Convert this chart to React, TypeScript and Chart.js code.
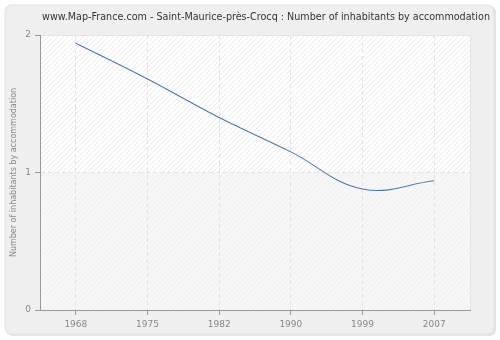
import React, { useEffect, useRef } from "react";
import { Chart, registerables } from "chart.js";

Chart.register(...registerables);

const TITLE = "www.Map-France.com - Saint-Maurice-près-Crocq : Number of inhabitants by accommodation";
const Y_LABEL = "Number of inhabitants by accommodation";
const years = ["1968", "1975", "1982", "1990", "1999", "2007"];
const values = [1.94, 1.68, 1.40, 1.15, 0.88, 0.94];
const yTicks = [0, 1, 2];

const FONT = "'DejaVu Sans', Verdana, sans-serif";

const decor = {
  id: "decor",
  beforeDraw(chart: any) {
    const { ctx, chartArea: a, scales } = chart;
    const W = chart.width, H = chart.height;
    ctx.save();
    ctx.fillStyle = "#ffffff";
    ctx.fillRect(0, 0, W, H);
    const rr = (x: number, y: number, w: number, h: number, r: number) => {
      ctx.beginPath();
      ctx.moveTo(x + r, y);
      ctx.lineTo(x + w - r, y);
      ctx.quadraticCurveTo(x + w, y, x + w, y + r);
      ctx.lineTo(x + w, y + h - r);
      ctx.quadraticCurveTo(x + w, y + h, x + w - r, y + h);
      ctx.lineTo(x + r, y + h);
      ctx.quadraticCurveTo(x, y + h, x, y + h - r);
      ctx.lineTo(x, y + r);
      ctx.quadraticCurveTo(x, y, x + r, y);
      ctx.closePath();
    };
    rr(6, 6, 490, 330, 7);
    ctx.fillStyle = "#e4e4e4";
    ctx.fill();
    rr(5, 5, 489, 329, 7);
    ctx.fillStyle = "#efefef";
    ctx.fill();
    ctx.strokeStyle = "#e2e2e2";
    ctx.lineWidth = 1;
    ctx.stroke();

    const y1 = scales.y.getPixelForValue(1);
    ctx.fillStyle = "#ffffff";
    ctx.fillRect(a.left, a.top, a.right - a.left, y1 - a.top);
    ctx.fillStyle = "#f7f7f7";
    ctx.fillRect(a.left, y1, a.right - a.left, a.bottom - y1);
    const hatch = (top: number, bottom: number, color: string) => {
      ctx.save();
      ctx.beginPath();
      ctx.rect(a.left, top, a.right - a.left, bottom - top);
      ctx.clip();
      ctx.strokeStyle = color;
      ctx.lineWidth = 1;
      ctx.beginPath();
      const h = bottom - top;
      for (let x = a.left - h; x < a.right + h; x += 5) {
        ctx.moveTo(x, bottom);
        ctx.lineTo(x + h, top);
      }
      ctx.stroke();
      ctx.restore();
    };
    hatch(a.top, y1, "#ebebeb");
    hatch(y1, a.bottom, "#eeeeee");
    ctx.strokeStyle = "#e6e6e6";
    ctx.strokeRect(a.left + 0.5, a.top + 0.5, a.right - a.left, a.bottom - a.top);

    ctx.fillStyle = "#333333";
    ctx.font = `9.6px ${FONT}`;
    ctx.textAlign = "center";
    ctx.textBaseline = "middle";
    ctx.fillText(TITLE, 266, 17);

    ctx.translate(14, (a.top + a.bottom) / 2);
    ctx.rotate(-Math.PI / 2);
    ctx.fillStyle = "#888888";
    ctx.font = `8px ${FONT}`;
    ctx.fillText(Y_LABEL, 0, 0);
    ctx.restore();
  },
};

export default function App() {
  const ref = useRef<HTMLCanvasElement>(null);
  useEffect(() => {
    document.body.style.margin = "0";
    const chart = new Chart(ref.current as HTMLCanvasElement, {
      type: "line",
      data: {
        labels: years,
        datasets: [
          {
            data: values,
            borderColor: "#4a78b0",
            borderWidth: 1.1,
            pointRadius: 0,
            tension: 0.4,
            fill: false,
          },
        ],
      },
      options: {
        responsive: false,
        animation: false,
        layout: { padding: { left: 0, right: 30, top: 35, bottom: 0 } },
        plugins: { legend: { display: false }, tooltip: { enabled: false }, title: { display: false } },
        scales: {
          x: {
            type: "category",
            offset: true,
            afterFit: (s: any) => { s.height = 30; },
            grid: {
              offset: false,
              color: "#e3e3e3",
              tickColor: "#999999",
              tickLength: 5,
              tickBorderDash: [],
              drawOnChartArea: true,
            },
            border: { color: "#999999", width: 1, dash: [4, 3] },
            ticks: { color: "#888888", font: { family: FONT, size: 9 }, padding: 4, maxRotation: 0 },
          },
          y: {
            min: 0,
            max: 2,
            afterFit: (s: any) => { s.width = 40; },
            afterBuildTicks: (s: any) => { s.ticks = yTicks.map((v) => ({ value: v })); },
            grid: {
              color: "#e3e3e3",
              tickColor: "#999999",
              tickLength: 5,
              tickBorderDash: [],
            },
            border: { color: "#999999", width: 1, dash: [4, 3] },
            ticks: { color: "#888888", font: { family: FONT, size: 9 }, padding: 4 },
          },
        },
      },
      plugins: [decor],
    });
    return () => chart.destroy();
  }, []);
  return <canvas ref={ref} width={500} height={340} />;
}
